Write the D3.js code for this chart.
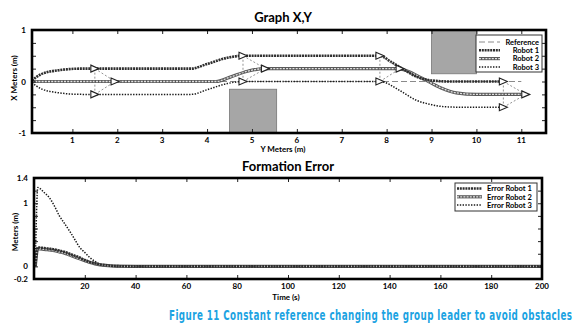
<!DOCTYPE html>
<html>
<head>
<meta charset="utf-8">
<script src="https://cdn.jsdelivr.net/npm/d3@7"></script>
<style>
  body { margin: 0; background: #fff; }
  svg { display: block; font-family: Lato, "Open Sans", sans-serif; }
</style>
</head>
<body>
<div id="chart"></div>
<script>
// ---- data ----
// trajectories, [y meters, x meters]
const robot1Path = [[0.1, 0.02], [0.3, 0.14], [0.7, 0.22], [1.2, 0.25], [3.65, 0.25], [4.0, 0.34], [4.45, 0.46], [4.8, 0.5],
  [7.85, 0.5], [8.1, 0.38], [8.35, 0.25], [8.7, 0.08], [9.0, 0.02], [9.4, 0], [10.6, 0]];
const robot2Path = [[0.1, 0], [4.2, 0], [4.5, 0.08], [4.9, 0.2], [5.3, 0.25], [8.25, 0.25], [8.8, 0.06], [9.2, -0.12],
  [9.55, -0.22], [10.0, -0.25], [11.1, -0.25]];
const robot3Path = [[0.1, -0.02], [0.3, -0.14], [0.7, -0.22], [1.2, -0.25], [3.65, -0.25], [4.0, -0.16], [4.45, -0.04], [4.8, 0],
  [7.85, 0], [8.3, -0.18], [8.65, -0.36], [9.0, -0.45], [9.3, -0.49], [9.7, -0.5], [10.6, -0.5]];
const referencePath = [[0.1, 0], [11.0, 0]];
// formation snapshots: robot1, robot2 (leader), robot3
const formations = [
  [[1.5, 0.25], [1.95, 0], [1.5, -0.25]],
  [[4.8, 0.5], [5.3, 0.25], [4.8, 0]],
  [[7.85, 0.5], [8.3, 0.25], [7.85, 0]],
  [[10.6, 0], [11.1, -0.25], [10.6, -0.5]]
];
// obstacles [x0, x1, y0, y1]
const obstacles = [[4.5, 5.55, -1, -0.15], [9.0, 10.0, 0.15, 1]];

// formation error, [time s, meters]
const errTime = [0.5, 1.5, 4, 6, 8, 10, 12, 14, 16, 18, 20, 22, 24, 26, 28, 32, 40, 200];
const error1 = [0, 0.30, 0.29, 0.28, 0.27, 0.25, 0.23, 0.20, 0.17, 0.14, 0.10, 0.07, 0.05, 0.03, 0.02, 0.005, 0, 0];
const error2 = [0, 0.28, 0.27, 0.26, 0.25, 0.23, 0.21, 0.18, 0.15, 0.12, 0.09, 0.06, 0.04, 0.025, 0.015, 0.003, 0, 0];
const error3 = [0, 1.25, 1.17, 1.09, 0.96, 0.80, 0.68, 0.56, 0.43, 0.30, 0.22, 0.14, 0.08, 0.03, 0.01, 0, 0, 0];

const topXTicks = [1, 2, 3, 4, 5, 6, 7, 8, 9, 10, 11];
const topYLabels = [-1, 0, 1];
const botXTicks = [20, 40, 60, 80, 100, 120, 140, 160, 180, 200];
const botYLabels = [-0.2, 0, 1, 1.4];

const W = 580, H = 329;
const svg = d3.select("#chart").append("svg").attr("width", W).attr("height", H);

// line styles
const styles = {
  ref: [{ stroke: "#8a8a8a", width: 1, dash: "6,3" }],
  r1: [{ stroke: "#2e2e2e", width: 2.6, dash: "2,0.8" }],
  r2: [{ stroke: "#5a5a5a", width: 3.2, dash: null }, { stroke: "#e2e2e2", width: 1.3, dash: "2,1.2" }],
  r3: [{ stroke: "#1a1a1a", width: 1.5, dash: "1.4,1.4" }]
};

function drawStyled(g, d, style) {
  style.forEach(s => {
    g.append("path").attr("d", d).attr("fill", "none")
      .attr("stroke", s.stroke).attr("stroke-width", s.width)
      .attr("stroke-dasharray", s.dash);
  });
}

function frameAxes(g, x, y, xTicks, yTicks, yLabels, yFmt) {
  const [x0, x1] = x.range();
  const [y0, y1] = y.range();
  // ticks inward on all sides
  g.append("g").attr("transform", `translate(0,${y0})`)
    .call(d3.axisBottom(x).tickValues(xTicks).tickSize(-4).tickFormat(""))
    .call(a => a.select(".domain").remove());
  g.append("g").attr("transform", `translate(0,${y1})`)
    .call(d3.axisTop(x).tickValues(xTicks).tickSize(-4).tickFormat(""))
    .call(a => a.select(".domain").remove());
  g.append("g").attr("transform", `translate(${x0},0)`)
    .call(d3.axisLeft(y).tickValues(yTicks).tickSize(-4).tickFormat(""))
    .call(a => a.select(".domain").remove());
  g.append("g").attr("transform", `translate(${x1},0)`)
    .call(d3.axisRight(y).tickValues(yTicks).tickSize(-4).tickFormat(""))
    .call(a => a.select(".domain").remove());
  g.selectAll(".tick line").attr("stroke", "#222").attr("stroke-width", 1);
  // labels
  g.append("g").selectAll("text").data(xTicks).join("text")
    .attr("x", d => x(d)).attr("y", y0 + 10).attr("text-anchor", "middle")
    .attr("font-size", 8).attr("font-weight", "bold").text(d => d);
  g.append("g").selectAll("text").data(yLabels).join("text")
    .attr("x", x0 - 6).attr("y", d => y(d) + 3).attr("text-anchor", "end")
    .attr("font-size", 8).attr("font-weight", "bold").text(yFmt);
  // frame
  g.append("rect").attr("x", x0).attr("y", y1).attr("width", x1 - x0).attr("height", y0 - y1)
    .attr("fill", "none").attr("stroke", "#000").attr("stroke-width", 2.6);
}

// ---------------- top chart ----------------
const xA = d3.scaleLinear().domain([0.1, 11.55]).range([32, 546]);
const yA = d3.scaleLinear().domain([-1, 1]).range([133, 30]);
const gA = svg.append("g");

gA.selectAll("rect.obs").data(obstacles).join("rect").attr("class", "obs")
  .attr("x", d => xA(d[0])).attr("width", d => xA(d[1]) - xA(d[0]))
  .attr("y", d => yA(d[3])).attr("height", d => yA(d[2]) - yA(d[3]))
  .attr("fill", "#a6a6a6").attr("stroke", "#777").attr("stroke-width", 0.8);

const lineA = d3.line().x(d => xA(d[0])).y(d => yA(d[1])).curve(d3.curveMonotoneX);
drawStyled(gA, lineA(referencePath), styles.ref);
drawStyled(gA, lineA(robot3Path), styles.r3);
drawStyled(gA, lineA(robot2Path), styles.r2);
drawStyled(gA, lineA(robot1Path), styles.r1);

// formation links and triangles
formations.forEach(f => {
  const links = [[f[0], f[2]], [f[0], f[1]], [f[2], f[1]]];
  links.forEach(([a, b]) => {
    gA.append("line").attr("x1", xA(a[0])).attr("y1", yA(a[1]))
      .attr("x2", xA(b[0])).attr("y2", yA(b[1]))
      .attr("stroke", "#777").attr("stroke-width", 0.8).attr("stroke-dasharray", "2,2");
  });
  f.forEach(p => {
    const cx = xA(p[0]), cy = yA(p[1]);
    gA.append("path").attr("d", `M${cx - 4},${cy - 3.5}L${cx + 4},${cy}L${cx - 4},${cy + 3.5}Z`)
      .attr("fill", "#fff").attr("stroke", "#222").attr("stroke-width", 1.1);
  });
});

frameAxes(gA, xA, yA, topXTicks, d3.range(-1, 1.01, 0.25), topYLabels, d => d);

// legend top
const legA = gA.append("g");
legA.append("rect").attr("x", 476).attr("y", 35).attr("width", 66).attr("height", 37)
  .attr("fill", "#fff").attr("stroke", "#333").attr("stroke-width", 1);
[["Reference", styles.ref], ["Robot 1", styles.r1], ["Robot 2", styles.r2], ["Robot 3", styles.r3]]
  .forEach(([name, st], i) => {
    const ly = 42 + i * 8.3;
    drawStyled(legA, `M479,${ly}L500,${ly}`, st);
    legA.append("text").attr("x", 539).attr("y", ly + 2.8).attr("text-anchor", "end")
      .attr("font-size", 7.5).attr("font-weight", "bold").text(name);
  });

gA.append("text").attr("x", 283).attr("y", 22).attr("text-anchor", "middle")
  .attr("font-size", 13).attr("font-weight", "bold").text("Graph X,Y");
gA.append("text").attr("x", 283).attr("y", 152).attr("text-anchor", "middle")
  .attr("font-size", 8).attr("font-weight", "bold").text("Y Meters (m)");
gA.append("text").attr("transform", "translate(17,78) rotate(-90)").attr("text-anchor", "middle")
  .attr("font-size", 8).attr("font-weight", "bold").text("X Meters (m)");

// ---------------- bottom chart ----------------
const xB = d3.scaleLinear().domain([0, 200]).range([34, 542]);
const yB = d3.scaleLinear().domain([-0.2, 1.4]).range([279, 178]);
const gB = svg.append("g");
const lineB = d3.line().x(d => xB(d[0])).y(d => yB(d[1])).curve(d3.curveMonotoneX);
const pts = vals => errTime.map((t, i) => [t, vals[i]]);
drawStyled(gB, lineB(pts(error3)), styles.r3);
drawStyled(gB, lineB(pts(error2)), styles.r2);
drawStyled(gB, lineB(pts(error1)), styles.r1);

frameAxes(gB, xB, yB, botXTicks, d3.range(-0.2, 1.41, 0.2), botYLabels, d => d);

const legB = gB.append("g");
legB.append("rect").attr("x", 455).attr("y", 183).attr("width", 82).attr("height", 28)
  .attr("fill", "#fff").attr("stroke", "#333").attr("stroke-width", 1);
[["Error Robot 1", styles.r1], ["Error Robot 2", styles.r2], ["Error Robot 3", styles.r3]]
  .forEach(([name, st], i) => {
    const ly = 188.5 + i * 8.3;
    drawStyled(legB, `M457,${ly}L482,${ly}`, st);
    legB.append("text").attr("x", 487).attr("y", ly + 2.8)
      .attr("font-size", 7.5).attr("font-weight", "bold").text(name);
  });

gB.append("text").attr("x", 288).attr("y", 171).attr("text-anchor", "middle")
  .attr("font-size", 13).attr("font-weight", "bold").text("Formation Error");
gB.append("text").attr("x", 286).attr("y", 300).attr("text-anchor", "middle")
  .attr("font-size", 8).attr("font-weight", "bold").text("Time (s)");
gB.append("text").attr("transform", "translate(18,232) rotate(-90)").attr("text-anchor", "middle")
  .attr("font-size", 8).attr("font-weight", "bold").text("Meters (m)");

// caption, squeezed horizontally to the reference width
const caption = svg.append("text")
  .attr("font-family", "'Liberation Sans Narrow', 'DejaVu Sans Condensed', 'DejaVu Sans', sans-serif")
  .attr("font-size", 13.5).attr("font-weight", "bold").attr("fill", "#1ca3e2")
  .attr("letter-spacing", 0.6)
  .text("Figure 11 Constant reference changing the group leader to avoid obstacles");
const capW = caption.node().getComputedTextLength();
caption.attr("transform", `translate(169,320) scale(${404 / capW},1)`);
</script>
</body>
</html>
